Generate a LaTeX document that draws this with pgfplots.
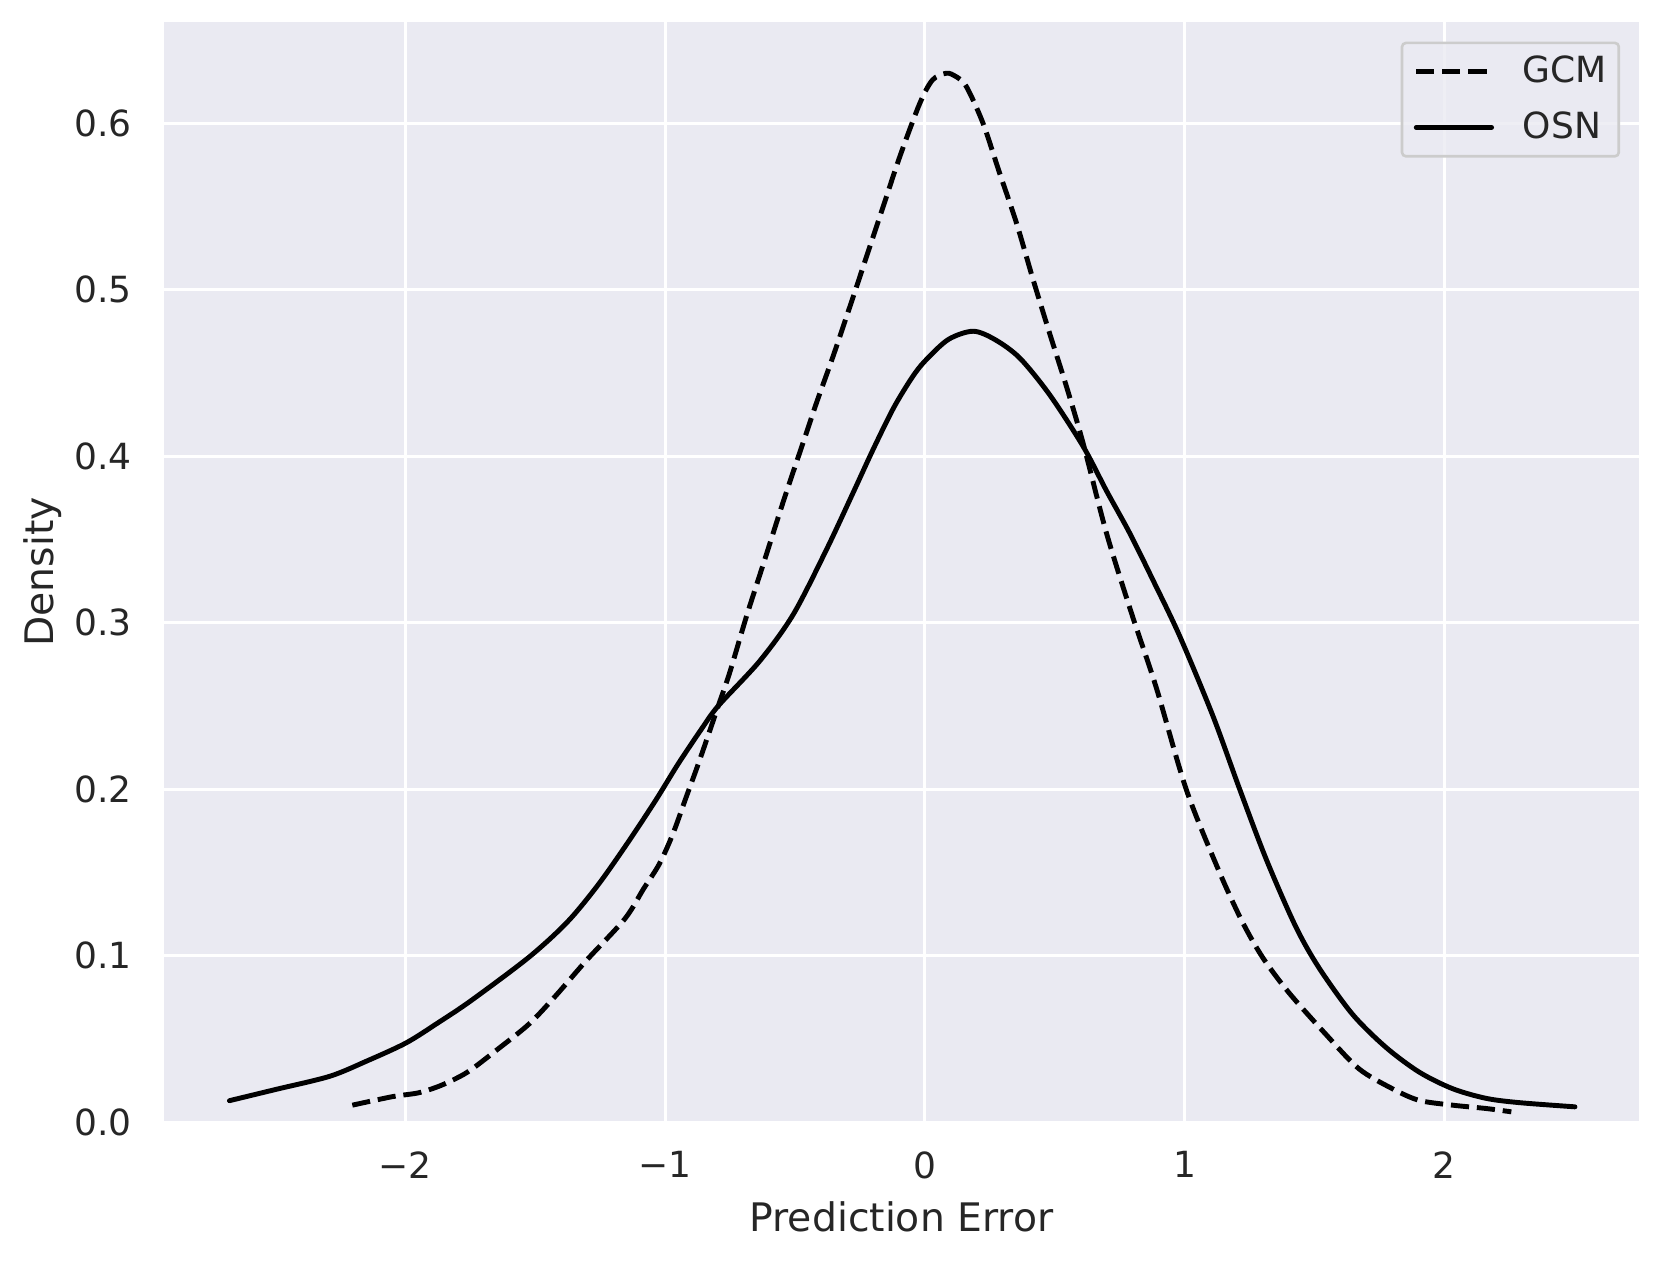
\documentclass[border=0pt]{standalone}
\usepackage{fontspec}
\setmainfont{DejaVu Sans}
\usepackage{pgfplots}
\pgfplotsset{compat=1.18}
\definecolor{bg}{HTML}{EAEAF2}
\definecolor{txt}{HTML}{262626}
\definecolor{legframe}{HTML}{CCCCCC}
\begin{document}
\begin{tikzpicture}
\path[use as bounding box] (-50pt,-43pt) rectangle (457.5pt,342.6pt);
\begin{axis}[
  at={(0,0)}, anchor=south west, scale only axis,
  width=450.5pt, height=336pt,
  xmin=-2.93, xmax=2.75, ymin=0, ymax=0.661,
  axis background/.style={fill=bg},
  axis line style={draw=none},
  major tick length=0pt,
  grid=major, grid style={white, line width=0.9pt},
  xtick={-2,-1,0,1,2}, xticklabels={−2,−1,0,1,2},
  ytick={0,0.1,0.2,0.3,0.4,0.5,0.6}, yticklabels={0.0,0.1,0.2,0.3,0.4,0.5,0.6},
  xticklabel style={font=\fontsize{11}{13}\selectfont, text=txt, inner sep=0pt, anchor=north, yshift=-8.8pt},
  yticklabel style={font=\fontsize{11}{13}\selectfont, text=txt, inner sep=0pt, anchor=east, xshift=-9.6pt},
  xlabel={Prediction Error}, ylabel={Density},
  xlabel style={font=\fontsize{12}{14}\selectfont, text=txt, at={(axis description cs:0.5,-0.0997)}, anchor=base, inner sep=0pt},
  ylabel style={font=\fontsize{12}{14}\selectfont, text=txt, at={(axis description cs:-0.0821,0.5)}, anchor=center, inner sep=0pt},
  legend style={at={(rel axis cs:1,1)}, anchor=north east, xshift=-5.8pt, yshift=-6.1pt,
    draw=legframe, line width=0.8pt, rounded corners=1.2pt, fill=bg, fill opacity=0.8, text opacity=1, draw opacity=1,
    font=\fontsize{11}{13}\selectfont, text=txt, inner xsep=3.6pt, inner ysep=4pt,
    row sep=7.3pt, column sep=8.8pt, nodes={inner sep=0pt}},
  legend cell align=left,
  legend image code/.code={\draw[#1] (0pt,0pt) -- (23pt,0pt);},
]
\addplot[black, line width=1.5pt, dash pattern=on 5.55pt off 2.4pt, smooth, line cap=butt, line join=round] coordinates {
(-2.204,0.0101) (-2.05,0.0152) (-1.95,0.0175) (-1.87,0.0215) (-1.80,0.0265) (-1.746,0.0315)
(-1.65,0.043) (-1.524,0.0588) (-1.42,0.076) (-1.303,0.097) (-1.155,0.122)
(-1.083,0.140) (-1.022,0.155) (-0.97,0.173) (-0.919,0.195) (-0.87,0.216)
(-0.795,0.25) (-0.751,0.27) (-0.686,0.304) (-0.62,0.336)
(-0.54,0.375) (-0.46,0.412) (-0.417,0.432) (-0.353,0.46) (-0.288,0.49)
(-0.224,0.52) (-0.16,0.55) (-0.096,0.580) (-0.019,0.612) (0.03,0.626)
(0.083,0.630) (0.12,0.628) (0.16,0.622) (0.224,0.60) (0.288,0.57)
(0.353,0.54) (0.417,0.506) (0.48,0.474) (0.545,0.442) (0.609,0.408)
(0.699,0.354) (0.795,0.306) (0.891,0.261) (1.006,0.20)
(1.129,0.152) (1.22,0.121) (1.30,0.099) (1.40,0.078) (1.542,0.053)
(1.671,0.032) (1.80,0.020) (1.903,0.013) (2.032,0.0101) (2.161,0.0081) (2.258,0.0061)
};
\addlegendentry{GCM}
\addplot[black, line width=1.5pt, smooth, line cap=round, line join=round] coordinates {
(-2.677,0.0128) (-2.50,0.0195) (-2.292,0.0274) (-2.15,0.0365) (-1.997,0.0475)
(-1.87,0.060) (-1.746,0.073) (-1.524,0.099) (-1.377,0.12) (-1.26,0.142)
(-1.147,0.167) (-1.037,0.193) (-0.95,0.215) (-0.86,0.236) (-0.795,0.25)
(-0.635,0.277) (-0.506,0.305) (-0.378,0.344) (-0.276,0.378) (-0.199,0.404)
(-0.12,0.429) (-0.05,0.447) (0,0.457) (0.09,0.470) (0.186,0.475) (0.27,0.470)
(0.365,0.459) (0.48,0.437) (0.609,0.406) (0.70,0.379) (0.788,0.354)
(0.88,0.325) (0.981,0.292) (1.109,0.244) (1.212,0.20) (1.314,0.158)
(1.426,0.118) (1.516,0.093) (1.645,0.065) (1.774,0.045) (1.903,0.030)
(2.032,0.020) (2.161,0.0142) (2.29,0.0116) (2.503,0.0091)
};
\addlegendentry{OSN}
\end{axis}
\end{tikzpicture}
\end{document}
